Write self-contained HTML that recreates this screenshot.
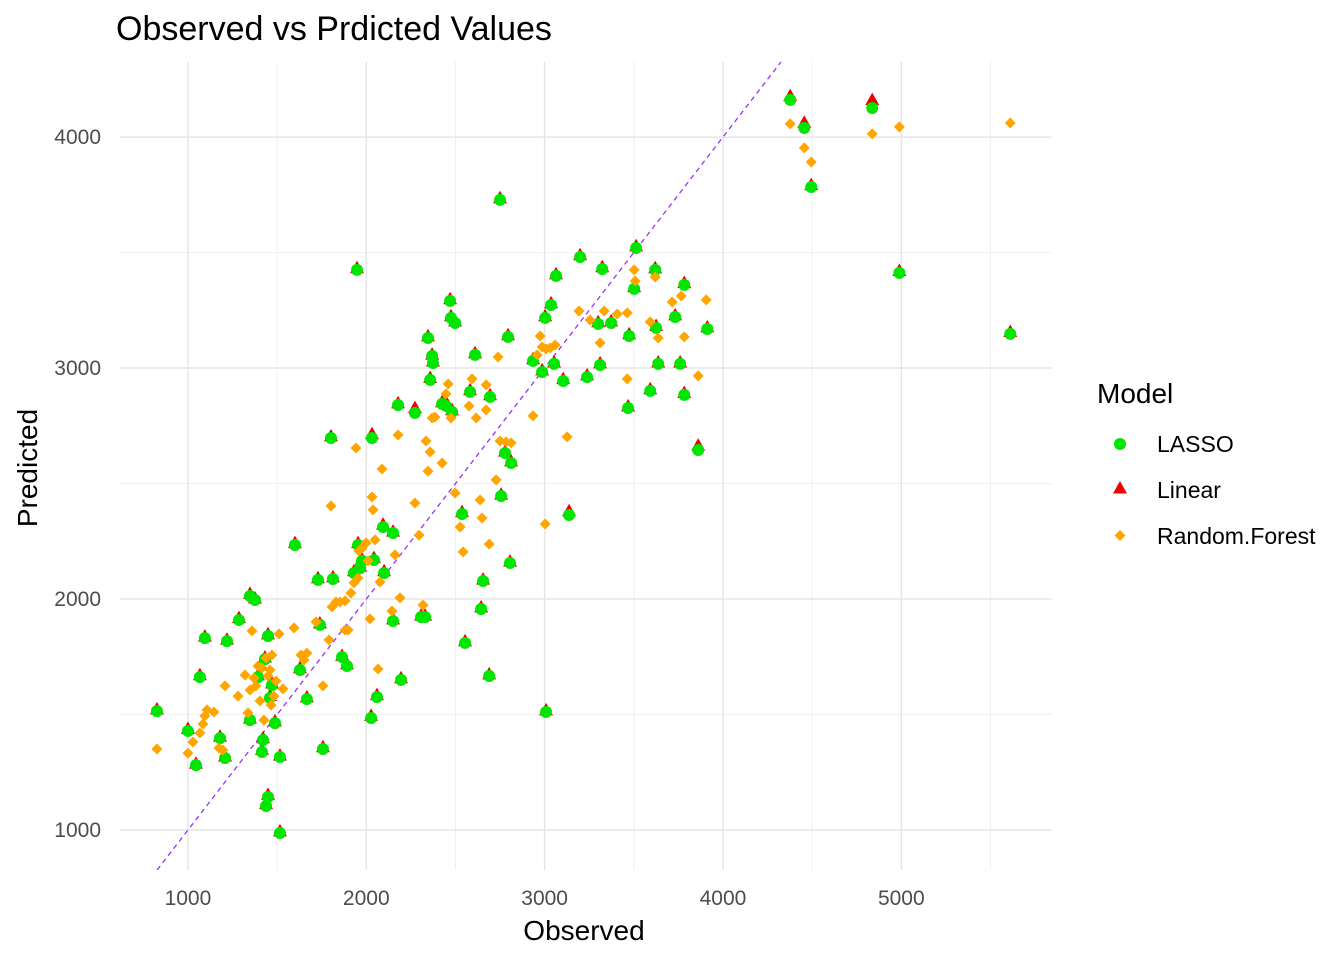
<!DOCTYPE html>
<html><head><meta charset="utf-8"><style>
body{margin:0;background:#fff;}
svg{display:block;font-family:"Liberation Sans",Arial,sans-serif;}
</style></head><body>
<svg id="chart" width="1344" height="960"></svg>
<script>
const obsLasso=[826,1000,1045,1067,1095,1180,1208,1219,1286,1348,1348,1376,1393,1415,1421,1432,1438,1449,1449,1460,1471,1488,1516,1516,1600,1628,1667,1729,1740,1757,1802,1813,1864,1892,1931,1948,1954,1965,1976,2027,2032,2043,2060,2094,2100,2150,2150,2178,2195,2273,2307,2330,2346,2358,2369,2374,2425,2447,2470,2475,2481,2498,2537,2554,2582,2610,2644,2655,2689,2694,2750,2756,2778,2795,2812,2806,2935,2986,3003,3008,3036,3053,3064,3104,3137,3199,3238,3300,3311,3323,3373,3468,3474,3502,3513,3592,3620,3625,3637,3732,3760,3783,3783,3861,3912,4377,4456,4495,4837,4989,5611];
const predLasso=[1515,1429,1281,1662,1831,1398,1312,1818,1909,2013,1476,1996,1662,1338,1390,1740,1104,1143,1840,1572,1628,1463,987,1316,2234,1693,1567,2083,1888,1351,2697,2087,1749,1710,2113,3425,2234,2134,2165,1485,2697,2169,1576,2312,2113,2286,1905,2840,1650,2806,1922,1922,3130,2949,3052,3022,2845,2836,3291,3217,2810,3195,2368,1810,2897,3057,1957,2078,1667,2875,3728,2446,2632,3135,2589,2156,3031,2983,3217,1511,3273,3018,3399,2944,2364,3481,2961,3191,3013,3429,3195,2827,3139,3343,3520,2901,3425,3174,3018,3221,3018,2884,3360,2645,3169,4161,4040,3784,4126,3412,3148];
const obsLinear=obsLasso.slice();
const predLinear=[1520,1435,1285,1668,1835,1402,1316,1822,1915,2020,1480,2000,1668,1345,1395,1745,1110,1150,1845,1578,1632,1468,992,1320,2240,1698,1572,2088,1892,1356,2702,2092,1752,1715,2118,3430,2240,2138,2170,1492,2712,2175,1582,2320,2118,2290,1910,2845,1655,2825,1926,1926,3135,2955,3056,3026,2850,2850,3296,3222,2815,3200,2374,1815,2902,3062,1962,2082,1672,2880,3733,2450,2636,3140,2594,2160,3036,2988,3222,1516,3278,3022,3404,2950,2378,3486,2966,3196,3018,3434,3200,2832,3144,3348,3525,2906,3430,3180,3022,3226,3022,2890,3366,2662,3174,4175,4060,3790,4158,3418,3154];
const obsRF=[826,1000,1028,1067,1084,1095,1107,1146,1174,1196,1208,1281,1320,1337,1348,1359,1370,1381,1393,1404,1415,1426,1438,1449,1460,1466,1471,1482,1494,1511,1533,1595,1634,1651,1667,1718,1757,1791,1802,1808,1830,1853,1881,1881,1898,1914,1931,1942,1954,1959,1976,1999,2010,2021,2032,2038,2049,2066,2077,2088,2144,2161,2178,2189,2273,2296,2318,2335,2346,2358,2369,2385,2425,2447,2459,2475,2498,2526,2543,2576,2593,2616,2638,2649,2672,2672,2689,2728,2739,2750,2784,2812,2935,2958,2975,2986,3003,3008,3031,3059,3126,3193,3255,3311,3334,3407,3463,3463,3502,3508,3592,3620,3637,3715,3766,3783,3861,3906,4377,4456,4495,4837,4989,5611];
const predRF=[1351,1333,1381,1420,1459,1494,1520,1511,1355,1346,1624,1580,1671,1507,1606,1862,1658,1624,1710,1559,1701,1476,1745,1667,1693,1541,1758,1580,1645,1849,1611,1875,1758,1736,1766,1901,1624,1823,2403,1966,1987,1987,1992,1866,1866,2026,2070,2654,2091,2208,2221,2243,2165,1914,2442,2386,2256,1697,2074,2563,1948,2191,2710,2005,2416,2277,1974,2684,2554,2637,2784,2788,2589,2888,2931,2784,2459,2312,2204,2836,2953,2784,2429,2351,2819,2927,2238,2516,3048,2684,2680,2676,2793,3057,3139,3091,2325,3083,3087,3100,2702,3247,3208,3109,3247,3234,3239,2953,3425,3377,3200,3394,3130,3286,3312,3135,2966,3295,4057,3953,3892,4014,4044,4061];
const xTicks=[1000,2000,3000,4000,5000];
const yTicks=[1000,2000,3000,4000];

const NS="http://www.w3.org/2000/svg";
const svg=document.getElementById('chart');
const L=120,R=1052,T=62,B=870;
const xMin=619,xMax=5845,yMin=827,yMax=4325;
const X=v=>L+(v-xMin)/(xMax-xMin)*(R-L);
const Y=v=>B-(v-yMin)/(yMax-yMin)*(B-T);
function mk(tag,attrs,parent){const e=document.createElementNS(NS,tag);for(const k in attrs)e.setAttribute(k,attrs[k]);(parent||svg).appendChild(e);return e;}

for(let v=1500;v<=5500;v+=1000){const g=mk('line',{x1:X(v),x2:X(v),y1:T,y2:B,stroke:'#f0f0f0','stroke-width':1});

}
for(let v=1500;v<=3500;v+=1000){const g=mk('line',{x1:L,x2:R,y1:Y(v),y2:Y(v),stroke:'#f0f0f0','stroke-width':1});

}
xTicks.forEach(v=>{const g=mk('line',{x1:X(v),x2:X(v),y1:T,y2:B,stroke:'#e6e6e6','stroke-width':1.5});


const t=mk('text',{x:X(v),y:905,'text-anchor':'middle','font-size':21,fill:'#4d4d4d'});t.textContent=v;

});
yTicks.forEach(v=>{const g=mk('line',{x1:L,x2:R,y1:Y(v),y2:Y(v),stroke:'#e6e6e6','stroke-width':1.5});


const t=mk('text',{x:101,y:Y(v)+7,'text-anchor':'end','font-size':21,fill:'#4d4d4d'});t.textContent=v;

});

const clip=mk('clipPath',{id:'pc'});mk('rect',{x:L,y:T,width:R-L,height:B-T},clip);
const dl=mk('line',{x1:X(yMin),y1:Y(yMin),x2:X(yMax),y2:Y(yMax),stroke:'#9b30ff','stroke-width':1.3,'stroke-dasharray':'5,4','clip-path':'url(#pc)'});



function tri(cx,cy){return `${cx},${cy-8} ${cx-7},${cy+4.5} ${cx+7},${cy+4.5}`;}
obsLinear.forEach((o,i)=>{const p=mk('polygon',{points:tri(X(o),Y(predLinear[i])),fill:'#ee0000'});

});
obsLasso.forEach((o,i)=>{const c=mk('circle',{cx:X(o),cy:Y(predLasso[i]),r:6,fill:'#00e600'});

});
obsRF.forEach((o,i)=>{const x=X(o),y=Y(predRF[i]);const d=mk('polygon',{points:`${x},${y-5.5} ${x+5.5},${y} ${x},${y+5.5} ${x-5.5},${y}`,fill:'#ffa500'});

});
</script>
<svg style="position:absolute;left:0;top:0" width="1344" height="960">
<text x="116" y="40" font-size="34" fill="#000" font-family="Liberation Sans, sans-serif">Observed vs Prdicted Values</text>
<text x="584" y="940" font-size="28" text-anchor="middle" fill="#000" font-family="Liberation Sans, sans-serif">Observed</text>
<text transform="translate(37,468) rotate(-90)" font-size="28" text-anchor="middle" fill="#000" font-family="Liberation Sans, sans-serif">Predicted</text>
<g font-family="Liberation Sans, sans-serif">
<text x="1097" y="403" font-size="28" fill="#000">Model</text>
<g><circle cx="1120" cy="444" r="6" fill="#00e600"/><text x="1157" y="452" font-size="23" fill="#000">LASSO</text></g>
<g><polygon points="1120,481 1113,493.5 1127,493.5" fill="#ee0000"/><text x="1157" y="498" font-size="23" fill="#000">Linear</text></g>
<g><polygon points="1120,530 1125.5,535.5 1120,541 1114.5,535.5" fill="#ffa500"/><text x="1157" y="544" font-size="23" fill="#000">Random.Forest</text></g>
</g>
</svg>
</body></html>
